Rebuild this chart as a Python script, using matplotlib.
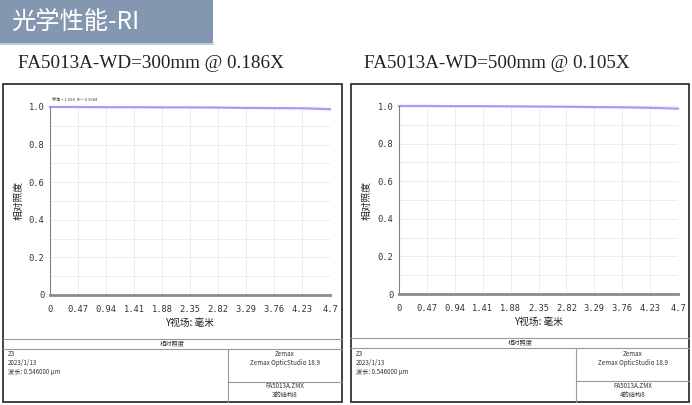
import matplotlib
matplotlib.use("Agg")
import matplotlib.pyplot as plt
import numpy as np
from matplotlib.patches import Rectangle

plt.rcParams['font.family'] = ['Noto Sans CJK SC', 'DejaVu Sans']

# ---- data ----
field_mm = [0, 0.47, 0.94, 1.41, 1.88, 2.35, 2.82, 3.29, 3.76, 4.23, 4.7]
ri_300 = [1.0, 1.0, 0.999, 0.999, 0.998, 0.998, 0.997, 0.995, 0.994, 0.993, 0.988]
ri_500 = [1.0, 1.0, 0.999, 0.999, 0.998, 0.997, 0.996, 0.994, 0.993, 0.990, 0.986]
xtick_labels = ["0", "0.47", "0.94", "1.41", "1.88", "2.35", "2.82", "3.29", "3.76", "4.23", "4.7"]
ytick_vals = [0, 0.2, 0.4, 0.6, 0.8, 1.0]
ytick_labels = ["0", "0.2", "0.4", "0.6", "0.8", "1.0"]
header = "光学性能-RI"
subtitles = ["FA5013A-WD=300mm @ 0.186X", "FA5013A-WD=500mm @ 0.105X"]
config_labels = ["3的结构8", "4的结构8"]

W, H = 692, 405
fig = plt.figure(figsize=(W / 100, H / 100), dpi=100)
fig.patch.set_facecolor("white")

# overlay in pixel coordinates
ov = fig.add_axes([0, 0, 1, 1])
ov.set_xlim(0, W)
ov.set_ylim(H, 0)
ov.axis("off")

# header box
ov.add_patch(Rectangle((0, 0), 213, 43, facecolor="#8497b0", edgecolor="none"))
ov.plot([0, 213], [43.5, 43.5], color="#b4c2d6", lw=1.2)
ov.text(11, 22, header, color="white", fontsize=17.5, va="center", ha="left",
        family=['Noto Sans CJK SC', 'DejaVu Sans'])

# panel geometry (pixels)
panels = [
    dict(box=(3, 84, 342, 402), ax=(50, 107, 330, 295), sub_x=18, foot1=339, foot2=349,
         vdiv=228, hdiv=382, ylab_x=19, ytick_x=45),
    dict(box=(351, 84, 689, 402), ax=(399, 106, 678, 294), sub_x=364, foot1=338, foot2=348,
         vdiv=576, hdiv=381, ylab_x=367, ytick_x=395),
]
series = [ri_300, ri_500]

for i, p in enumerate(panels):
    x0, y0, x1, y1 = p["box"]
    ov.add_patch(Rectangle((x0, y0), x1 - x0, y1 - y0, facecolor="none",
                           edgecolor="#333333", lw=1.3))
    ov.text(p["sub_x"], 64, subtitles[i], fontsize=13.8, family="Liberation Serif",
            color="#222222", va="center", ha="left")
    # footer
    ov.plot([x0, x1], [p["foot1"], p["foot1"]], color="#999999", lw=0.8)
    ov.plot([x0, x1], [p["foot2"], p["foot2"]], color="#999999", lw=0.8)
    ov.plot([p["vdiv"], p["vdiv"]], [p["foot2"], y1], color="#999999", lw=0.8)
    ov.plot([p["vdiv"], x1], [p["hdiv"], p["hdiv"]], color="#999999", lw=0.8)
    ov.text((x0 + x1) / 2, (p["foot1"] + p["foot2"]) / 2, "相对照度", fontsize=4.5,
            ha="center", va="center", color="#333333")
    for j, t in enumerate(["Z3", "2023/1/13", "波长: 0.546000 µm"]):
        ov.text(x0 + 5, 353.5 + j * 9, t, fontsize=4.5, ha="left", va="center", color="#333333")
    rc = (p["vdiv"] + x1) / 2
    ov.text(rc, 354, "Zemax", fontsize=4.5, ha="center", va="center", color="#333333")
    ov.text(rc, 363, "Zemax OpticStudio 18.9", fontsize=4.5, ha="center", va="center", color="#333333")
    ov.text(rc, 386, "FA5013A.ZMX", fontsize=4.5, ha="center", va="center", color="#333333")
    ov.text(rc, 395, config_labels[i], fontsize=4.5, ha="center", va="center", color="#333333")

    # plot axes
    ax0, ay0, ax1, ay1 = p["ax"]
    ax = fig.add_axes([ax0 / W, 1 - ay1 / H, (ax1 - ax0) / W, (ay1 - ay0) / H])
    ax.set_facecolor("none")
    ax.plot(field_mm, series[i], color="#8080ff", lw=1.6, alpha=0.75, clip_on=False)
    ax.set_xlim(0, 4.7)
    ax.set_ylim(0, 1.0)
    ax.set_xticks(field_mm)
    ax.set_xticklabels(xtick_labels)
    ax.set_yticks(ytick_vals)
    ax.set_yticklabels(ytick_labels)
    ax.set_yticks(np.arange(0.1, 1.0, 0.2), minor=True)
    ax.grid(True, which="both", color="#ececec", lw=0.7)
    ax.tick_params(axis="both", which="both", length=0, labelsize=6.3, colors="#333333")
    ax.tick_params(axis="x", pad=7)
    ax.tick_params(axis="y", pad=4)
    for lab in ax.get_xticklabels() + ax.get_yticklabels():
        lab.set_family("DejaVu Sans Mono")
    for s in ["top", "right"]:
        ax.spines[s].set_visible(False)
    ax.spines["left"].set_color("#808080")
    ax.spines["left"].set_linewidth(0.8)
    ax.spines["bottom"].set_color("#8a8a8a")
    ax.spines["bottom"].set_linewidth(2.0)
    ax.set_xlabel("Y视场: 毫米", fontsize=7, color="#222222", labelpad=3)
    ov.text(p["ylab_x"], (ay0 + ay1) / 2, "相对照度", fontsize=7, rotation=90,
            ha="center", va="center", color="#222222")
    if i == 0:
        ov.text(52, 99, "标准 = 1.098, RI = 0.9984", fontsize=3, ha="left", va="center",
                color="#444444")

fig.savefig("out.png", dpi=100)
